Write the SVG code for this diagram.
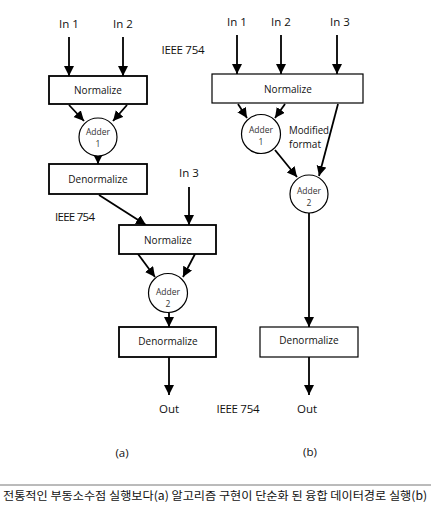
<svg xmlns="http://www.w3.org/2000/svg" width="431" height="514" viewBox="0 0 431 514">
<defs>
<marker id="ah" markerUnits="userSpaceOnUse" markerWidth="10" markerHeight="11" refX="10" refY="5" orient="auto">
<path d="M0,0 L10,5 L0,10 Z" fill="#000"/>
</marker>
<style>
.t{font-family:"Open Sans","Liberation Sans",sans-serif;fill:#111;text-anchor:middle}
.lbl{font-size:11.5px}
.box{fill:#fff;stroke:#000}
.bt{font-size:10px}
.ct{font-size:8.5px;fill:#333}
.c{fill:#fff;stroke:#000;stroke-width:1.2}
.ln{stroke:#000;stroke-width:1.8;fill:none;marker-end:url(#ah)}
</style>
</defs>
<rect width="431" height="514" fill="#fff"/>
<g id="labels">
<text class="t lbl" x="69" y="28">In 1</text>
<text class="t lbl" x="123" y="28">In 2</text>
<text class="t lbl" x="183" y="54" textLength="43">IEEE 754</text>
<text class="t lbl" x="189" y="177">In 3</text>
<text class="t lbl" x="75" y="221" textLength="40">IEEE 754</text>
<text class="t lbl" x="169" y="413">Out</text>
<text class="t lbl" x="122" y="457">(a)</text>
<text class="t lbl" x="237" y="26">In 1</text>
<text class="t lbl" x="281" y="26">In 2</text>
<text class="t lbl" x="340" y="26">In 3</text>
<text class="t lbl" x="289" y="134" style="text-anchor:start" textLength="40" lengthAdjust="spacingAndGlyphs">Modified</text>
<text class="t lbl" x="289" y="148" style="text-anchor:start" textLength="32" lengthAdjust="spacingAndGlyphs">format</text>
<text class="t lbl" x="238" y="413" textLength="43">IEEE 754</text>
<text class="t lbl" x="307" y="413">Out</text>
<text class="t lbl" x="310" y="456">(b)</text>
</g>
<g id="connectors">
<line class="ln" x1="69" y1="37" x2="69" y2="76"/>
<line class="ln" x1="123" y1="37" x2="123" y2="76"/>
<line class="ln" x1="69" y1="105" x2="84" y2="121"/>
<line class="ln" x1="127" y1="105" x2="113" y2="121"/>
<line class="ln" x1="98" y1="156" x2="98" y2="164"/>
<line class="ln" x1="99" y1="195" x2="146" y2="225"/>
<line class="ln" x1="189" y1="187" x2="189" y2="225"/>
<line class="ln" x1="138" y1="254" x2="155" y2="277"/>
<line class="ln" x1="195" y1="254" x2="183" y2="277"/>
<line class="ln" x1="169" y1="313" x2="169" y2="327"/>
<line class="ln" x1="169" y1="357" x2="169" y2="395"/>
<line class="ln" x1="237" y1="35" x2="237" y2="74"/>
<line class="ln" x1="281" y1="35" x2="281" y2="74"/>
<line class="ln" x1="337" y1="35" x2="337" y2="74"/>
<line class="ln" x1="238" y1="104" x2="247" y2="118"/>
<line class="ln" x1="285" y1="104" x2="275" y2="118"/>
<line class="ln" x1="338" y1="104" x2="319" y2="176"/>
<line class="ln" x1="275" y1="150" x2="297" y2="177"/>
<line class="ln" x1="309" y1="213" x2="309" y2="327"/>
<line class="ln" x1="309" y1="357" x2="309" y2="395"/>
</g>
<g id="norm-a1"><rect class="box" x="49" y="76" width="98" height="28" style="stroke-width:1.8"/><text class="t bt" x="98" y="94">Normalize</text></g>
<g id="adder-a1"><circle class="c" cx="98" cy="137" r="19"/><text class="t ct" x="98" y="135">Adder</text><text class="t ct" x="98" y="147">1</text></g>
<g id="denorm-a1"><rect class="box" x="49" y="164" width="98" height="30" style="stroke-width:1.8"/><text class="t bt" x="98" y="183">Denormalize</text></g>
<g id="norm-a2"><rect class="box" x="119" y="225" width="97" height="29" style="stroke-width:1.8"/><text class="t bt" x="168" y="244">Normalize</text></g>
<g id="adder-a2"><circle class="c" cx="168" cy="293" r="19.5"/><text class="t ct" x="168" y="295">Adder</text><text class="t ct" x="168" y="307">2</text></g>
<g id="denorm-a2"><rect class="box" x="119" y="327" width="97" height="30" style="stroke-width:1.8"/><text class="t bt" x="168" y="345">Denormalize</text></g>
<g id="norm-b"><rect class="box" x="212" y="74" width="151" height="29" style="stroke-width:1.2"/><text class="t bt" x="288" y="93">Normalize</text></g>
<g id="adder-b1"><circle class="c" cx="261" cy="134" r="19.5"/><text class="t ct" x="261" y="133">Adder</text><text class="t ct" x="261" y="145">1</text></g>
<g id="adder-b2"><circle class="c" cx="309" cy="194" r="19"/><text class="t ct" x="309" y="194">Adder</text><text class="t ct" x="309" y="206">2</text></g>
<g id="denorm-b"><rect class="box" x="260" y="327" width="98" height="30" style="stroke-width:1.2"/><text class="t bt" x="309" y="344">Denormalize</text></g>
<line x1="0" y1="485" x2="431" y2="485" stroke="#777" stroke-width="1"/>
<text x="3" y="500" font-family="'Noto Sans CJK KR',sans-serif" font-size="11.5" fill="#111" textLength="424" lengthAdjust="spacingAndGlyphs">전통적인 부동소수점 실행보다(a) 알고리즘 구현이 단순화 된 융합 데이터경로 실행(b)</text>
</svg>
